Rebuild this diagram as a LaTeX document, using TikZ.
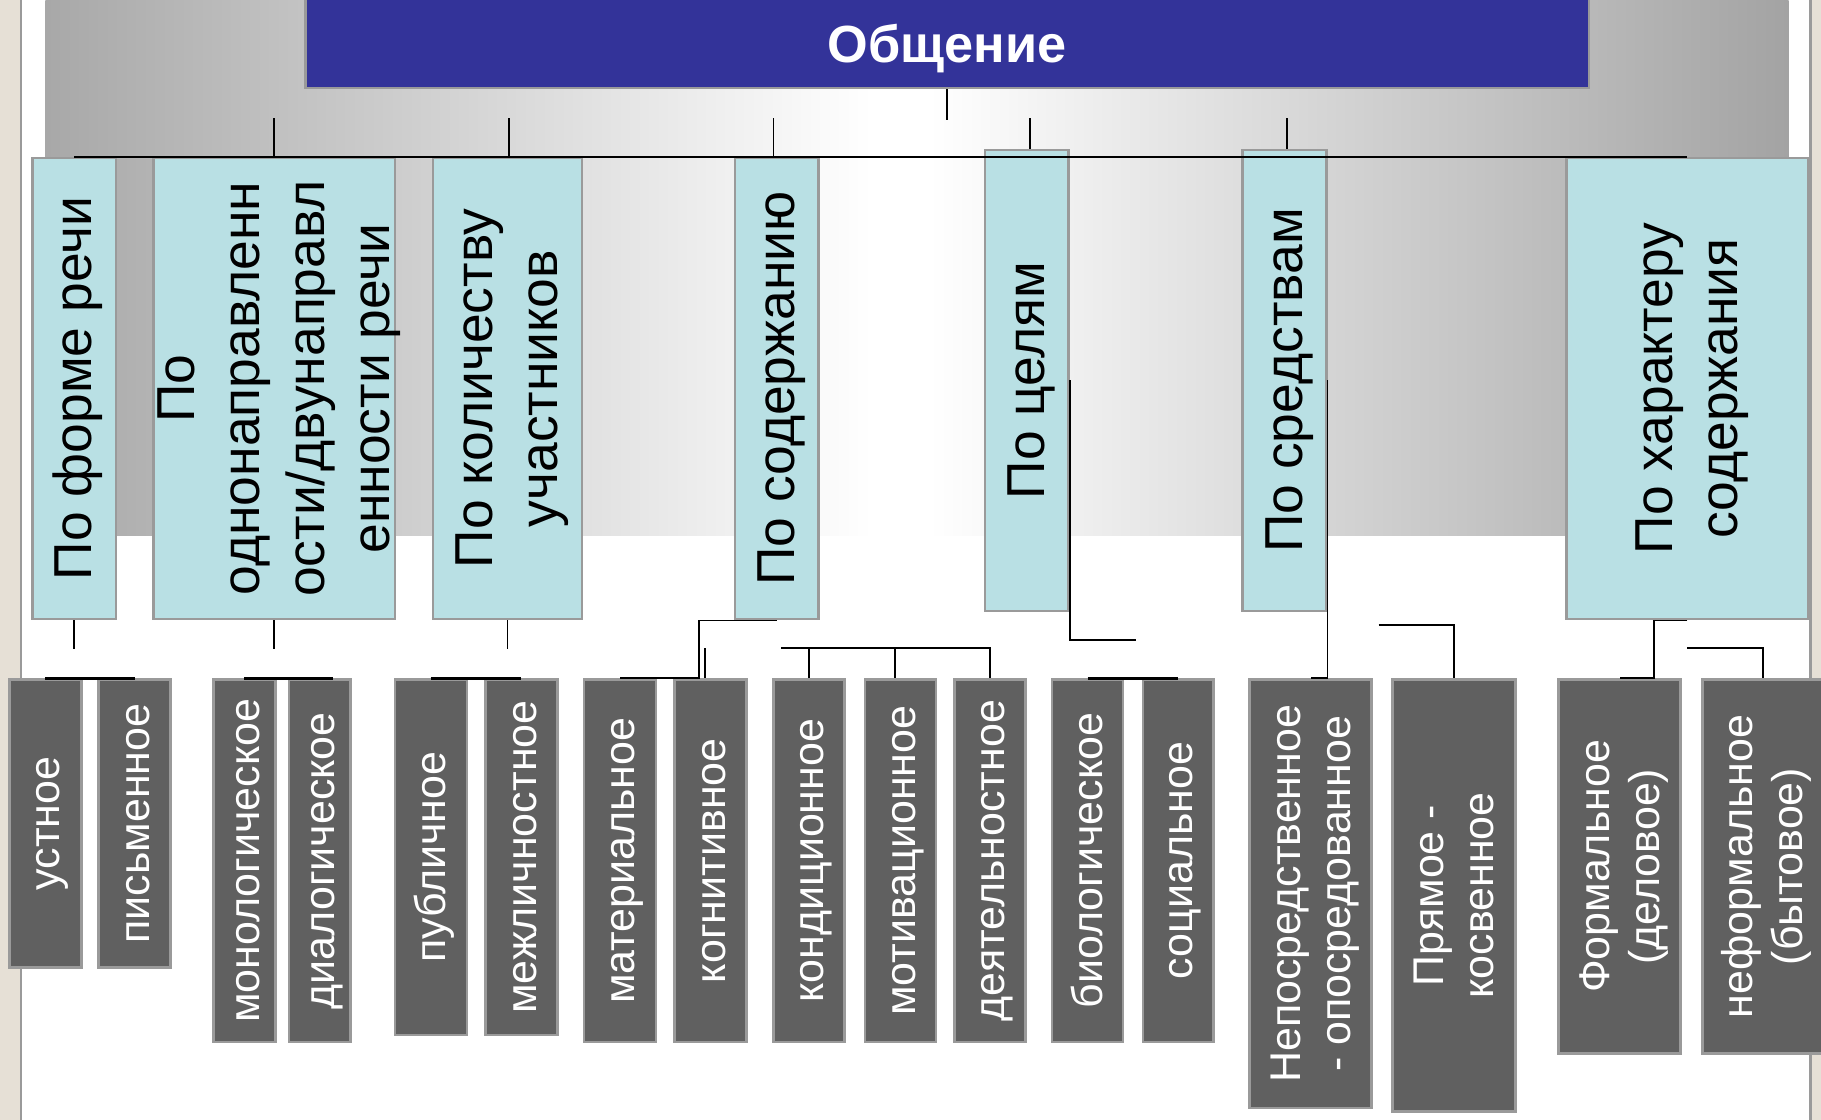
\documentclass[tikz,border=0pt]{standalone}
\usepackage{fontspec}
\setmainfont{Liberation Sans}

\definecolor{headblue}{HTML}{333399}
\definecolor{groupcyan}{HTML}{B9E0E4}
\definecolor{kindgray}{HTML}{606060}
\definecolor{boxline}{HTML}{9A9A9A}
\definecolor{slideedge}{HTML}{E6E0D6}
\definecolor{bgleft}{HTML}{A8A8A8}
\definecolor{bgright}{HTML}{A3A3A3}

% rotated text, read from bottom to top (optional: twice the shift to the right)
\newcommand{\vtext}[2][8pt]{\makebox[0pt]{\hspace{#1}\rotatebox{90}{\begin{tabular}{@{}c@{}}#2\end{tabular}}}}

\begin{document}
\begin{tikzpicture}[x=1pt,y=-1pt,
	head/.style={draw=boxline,fill=headblue,line width=2pt,inner sep=0pt,text depth=0pt,text=white,font=\fontsize{45}{50}\selectfont\bfseries},
	group/.style={draw=boxline,fill=groupcyan,line width=2.2pt,inner sep=0pt,anchor=north,minimum height=397pt,font=\fontsize{46}{56}\selectfont},
	kind/.style={draw=boxline,fill=kindgray,line width=2.2pt,inner sep=0pt,anchor=north,text=white,font=\fontsize{37}{43}\selectfont},
	link/.style={line width=1.5pt},
	bus/.style={line width=2.2pt}]
	\useasboundingbox (0,0) rectangle (1568,964);
	
	% Slide background
	\fill[slideedge] (0,0) rectangle (17,964);
	\fill[slideedge] (1559,0) rectangle (1568,964);
	\draw[boxline,line width=2pt] (18,0) -- (18,964);
	\draw[boxline,line width=2pt] (1559,0) -- (1559,964);
	\shade[left color=bgleft,right color=white] (39,0) rectangle (751,461);
	\fill[white] (750,0) rectangle (801,461);
	\shade[left color=white,right color=bgright] (800,0) rectangle (1540,461);
	
	% Root
	\node[head,minimum width=1105pt,minimum height=78pt] (head) at (815.5,37) {Общение};
	
	% First level: the grounds of the division
	\node[group,minimum width=72pt] (form) at (64,135) {\vtext{По форме речи}};
	\node[group,minimum width=208pt] (direction) at (236,135) {\vtext{По\\однонаправленн\\ости/двунаправл\\енности речи}};
	\node[group,minimum width=128pt] (number) at (437,135) {\vtext{По количеству\\участников}};
	\node[group,minimum width=72pt] (content) at (669,135) {\vtext{По содержанию}};
	\node[group,minimum width=72pt] (goals) at (884,128) {\vtext{По целям}};
	\node[group,minimum width=72pt] (means) at (1106,128) {\vtext{По средствам}};
	\node[group,minimum width=208pt] (character) at (1453,135) {\vtext{По характеру\\содержания}};
	
	% Second level: name/centre x/width/height/text
	\foreach \name/\cx/\w/\h/\txt in {
		oral/39/62/248/устное,
		written/116/62/248/письменное,
		mono/210.5/53/312/монологическое,
		dia/275.5/53/312/диалогическое,
		public/371/62/306/публичное,
		inter/449/62/306/межличностное,
		mat/534/62/312/материальное,
		cog/612/62/312/когнитивное,
		cond/696.5/61/312/кондиционное,
		motiv/775.5/61/312/мотивационное,
		act/852.5/61/312/деятельностное,
		bio/936.5/61/312/биологическое,
		soc/1014.5/61/312/социальное,
		direct/1128.5/105/369/{Непосредственное\\- опосредованное},
		straight/1252/106/372/{Прямое -\\косвенное},
		formal/1394.5/105/322/{Формальное\\(деловое)},
		informal/1518/104/322/{неформальное\\(бытовое)}}{
		\node[kind,minimum width=\w pt,minimum height=\h pt] (\name) at (\cx,584) {\vtext{\txt}};
	}
	
	% Loose ends of the connectors
	\coordinate (row) at (0,558);
	\coordinate (goalsend) at (978,551);
	\coordinate (meansend) at (1187,538);
	\coordinate (charend) at (1453,558);
	
	% Upper connectors
	\draw[link] (head.south) -- ++(0,26);
	\draw[bus] (form.north) -- (character.north);
	\foreach \g/\dx in {direction/0,number/1,content/-3}{
		\draw[link] ([xshift=\dx pt]\g.north) -- ++(0,-33);
	}
	\foreach \g/\dx in {goals/3,means/2}{
		\draw[link] ([xshift=\dx pt]\g.north) -- ++(0,-26);
	}
	
	% Lower connectors
	\foreach \g in {form,direction,number}{
		\draw[link] (\g.south) -- ++(0,25);
	}
	\draw[bus] (oral.north) -- (written.north);
	\draw[bus] (mono.north) -- ([xshift=11pt]dia.north);
	\draw[bus] (public.north) -- (inter.north);
	\draw[link] (content.south) -| ([xshift=-10pt]cog.north) -- (mat.north);
	\draw[link] ([xshift=-5pt]cog.north |- row) -- ([xshift=-5pt]cog.north);
	\draw[link] ([xshift=-24pt]cond.north |- row) -- (act.north |- row) -- (act.north);
	\draw[link] (cond.north |- row) -- (cond.north);
	\draw[link] ([xshift=-5pt]motiv.north |- row) -- ([xshift=-5pt]motiv.north);
	\draw[link] (goals.east) |- (goalsend);
	\draw[bus] (bio.north) -- (soc.north);
	\draw[link] (means.east) |- (direct.north);
	\draw[link] (meansend) -| (straight.north);
	\draw[link] (character.south) -- ++(-29,0) |- (formal.north);
	\draw[link] (charend) -| (informal.north);
\end{tikzpicture}
\end{document}
